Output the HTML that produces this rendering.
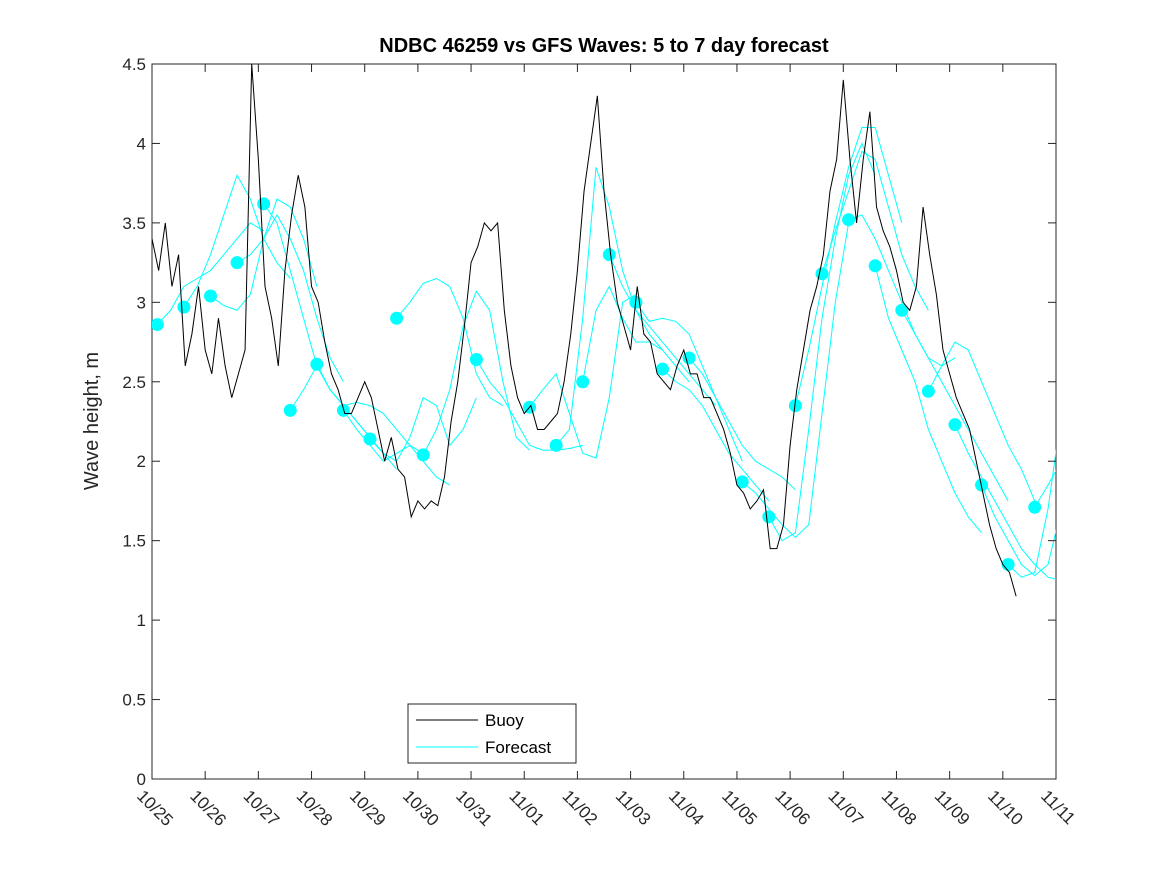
<!DOCTYPE html>
<html><head><meta charset="utf-8"><style>
body{margin:0;background:#fff}
svg{font-family:"Liberation Sans",sans-serif}
</style></head><body>
<svg id="c" width="1167" height="875"></svg>
<script>
const startLabels=["10/25","10/26","10/27","10/28","10/29","10/30","10/31","11/01","11/02","11/03","11/04","11/05","11/06","11/07","11/08","11/09","11/10","11/11"];
const yTicks=[0,0.5,1,1.5,2,2.5,3,3.5,4,4.5];
const yTickLabels=["0","0.5","1","1.5","2","2.5","3","3.5","4","4.5"];
// buoy: 3-hourly values from 10/25 00:00, one row per day
const buoyStep=0.125;
const buoy=[
3.4,3.2,3.5,3.1,3.3,2.6,2.8,3.1,
2.7,2.55,2.9,2.6,2.4,2.55,2.7,4.5,
3.9,3.1,2.9,2.6,3.2,3.55,3.8,3.6,
3.1,3.0,2.75,2.55,2.45,2.3,2.3,2.4,
2.5,2.4,2.2,2.0,2.15,1.95,1.9,1.65,
1.75,1.7,1.75,1.72,1.9,2.25,2.5,2.85,
3.25,3.35,3.5,3.45,3.5,2.95,2.6,2.4,
2.3,2.35,2.2,2.2,2.25,2.3,2.5,2.8,
3.2,3.7,4.0,4.3,3.7,3.3,3.0,2.85,
2.7,3.1,2.8,2.75,2.55,2.5,2.45,2.6,
2.7,2.55,2.55,2.4,2.4,2.3,2.2,2.05,
1.85,1.8,1.7,1.75,1.82,1.45,1.45,1.6,
2.1,2.45,2.7,2.95,3.1,3.3,3.7,3.9,
4.4,3.9,3.5,3.9,4.2,3.6,3.45,3.35,
3.2,3.0,2.95,3.1,3.6,3.3,3.05,2.7,
2.55,2.4,2.3,2.2,2.0,1.8,1.6,1.45,
1.35,1.3,1.15];
const fcStarts=[0.1,0.6,1.1,1.6,2.1,2.6,3.1,3.6,4.1,4.6,5.1,6.1,7.1,7.6,8.1,8.6,9.1,9.6,10.1,11.1,11.6,12.1,12.6,13.1,13.6,14.1,14.6,15.1,15.6,16.1,16.6];
const fcValues=[
[2.86,2.95,3.1,3.15,3.2,3.3,3.4,3.5,3.45],
[2.97,3.1,3.3,3.55,3.8,3.65,3.4,3.25,3.15],
[3.04,2.98,2.95,3.05,3.4,3.65,3.6,3.4,3.1],
[3.25,3.3,3.4,3.55,3.4,3.2,2.9,2.65,2.5],
[3.62,3.5,3.2,2.9,2.6,2.45,2.35,2.25,2.15],
[2.32,2.45,2.6,2.45,2.35,2.25,2.15,2.05,1.95],
[2.61,2.45,2.35,2.37,2.35,2.3,2.2,2.1,2.05],
[2.32,2.2,2.1,2.0,2.05,2.1,2.0,1.9,1.85],
[2.14,2.05,2.0,2.15,2.4,2.35,2.1,2.2,2.4],
[2.9,3.0,3.12,3.15,3.1,2.9,2.55,2.4,2.35],
[2.04,2.2,2.45,2.85,3.07,2.95,2.5,2.15,2.07],
[2.64,2.5,2.4,2.25,2.1,2.07,2.07,2.08,2.1],
[2.34,2.45,2.55,2.3,2.05,2.02,2.4,3.0,3.05],
[2.1,2.2,2.9,3.85,3.6,3.2,2.95,2.8,2.7],
[2.5,2.95,3.1,2.9,2.75,2.75,2.7,2.6,2.5],
[3.3,3.1,2.95,2.85,2.75,2.65,2.55,2.45,2.35],
[3.0,2.88,2.9,2.88,2.8,2.6,2.4,2.2,2.0],
[2.58,2.5,2.45,2.35,2.2,2.05,1.95,1.85,1.75],
[2.65,2.55,2.4,2.25,2.1,2.0,1.95,1.9,1.82],
[1.87,1.8,1.7,1.6,1.52,1.6,2.3,3.0,3.5],
[1.65,1.5,1.55,2.2,2.9,3.4,3.8,4.0,3.8],
[2.35,2.7,3.1,3.5,3.85,4.1,4.1,3.8,3.5],
[3.18,3.45,3.7,3.95,3.9,3.6,3.3,3.1,2.95],
[3.52,3.55,3.4,3.2,3.0,2.8,2.65,2.6,2.65],
[3.23,2.9,2.7,2.5,2.2,2.0,1.8,1.65,1.55],
[2.95,2.8,2.65,2.5,2.35,2.2,2.05,1.9,1.75],
[2.44,2.6,2.75,2.7,2.5,2.3,2.1,1.95,1.75],
[2.23,2.05,1.9,1.75,1.6,1.45,1.35,1.27,1.25],
[1.85,1.65,1.5,1.35,1.28,1.35,1.7,2.1,2.4],
[1.35,1.27,1.3,1.7,2.3],
[1.71,1.85,2.0]];
const fcStep=0.25;

const L=152,R=1056,T=64,B=779,X0=0,X1=17,Y0=0,Y1=4.5;
const xs=d=>L+(d-X0)/(X1-X0)*(R-L);
const ys=v=>B-(v-Y0)/(Y1-Y0)*(B-T);
const svg=document.getElementById('c');const NS='http://www.w3.org/2000/svg';
function mk(t,a,p){const e=document.createElementNS(NS,t);for(const k in a)e.setAttribute(k,a[k]);(p||svg).appendChild(e);return e;}
const clip=mk('clipPath',{id:'pc'});mk('rect',{x:L,y:T,width:R-L,height:B-T},clip);
let r=mk('rect',{x:L,y:T,width:R-L,height:B-T,fill:'#fff',stroke:'#262626','stroke-width':1});


const fg=mk('g',{'clip-path':'url(#pc)'});
fcStarts.forEach((s,i)=>{
  const v=fcValues[i];
  if(v.length>1){const p=mk('polyline',{points:v.map((y,j)=>xs(s+j*fcStep)+','+ys(y)).join(' '),fill:'none',stroke:'#00ffff','stroke-width':1},fg);
  
  }
});
fcStarts.forEach((s,i)=>{
  const c=mk('circle',{cx:xs(s),cy:ys(fcValues[i][0]),r:6.5,fill:'#00ffff'},fg);
  
  
});
const bl=mk('polyline',{points:buoy.map((v,i)=>xs(i*buoyStep)+','+ys(v)).join(' '),fill:'none',stroke:'#000','stroke-width':1,'clip-path':'url(#pc)'});


yTicks.forEach((v,i)=>{const y=ys(v);
  mk('line',{x1:L,x2:L+8,y1:y,y2:y,stroke:'#262626'});mk('line',{x1:R,x2:R-8,y1:y,y2:y,stroke:'#262626'});
  const t=mk('text',{x:L-6,y:y+6,'text-anchor':'end','font-size':17,fill:'#262626'});t.textContent=yTickLabels[i];
  
  });
startLabels.forEach((lab,i)=>{const x=xs(i);
  mk('line',{x1:x,x2:x,y1:B,y2:B-8,stroke:'#262626'});mk('line',{x1:x,x2:x,y1:T,y2:T+8,stroke:'#262626'});
  const t=mk('text',{x:x-16,y:B+18,'font-size':17,fill:'#262626',transform:`rotate(45 ${x-16} ${B+18})`});t.textContent=lab;
  
  });
let t=mk('text',{x:604,y:52,'text-anchor':'middle','font-size':20,'font-weight':'bold',fill:'#000'});t.textContent='NDBC 46259 vs GFS Waves: 5 to 7 day forecast';


t=mk('text',{x:98,y:421,'text-anchor':'middle','font-size':20,fill:'#262626',transform:'rotate(-90 98 421)'});t.textContent='Wave height, m';


const lg=mk('g',{});


mk('rect',{x:408,y:704,width:168,height:59,fill:'#fff',stroke:'#262626'},lg);
mk('line',{x1:416,x2:478,y1:720,y2:720,stroke:'#000'},lg);
mk('line',{x1:416,x2:478,y1:747,y2:747,stroke:'#00ffff'},lg);
t=mk('text',{x:485,y:726,'font-size':17,fill:'#000'},lg);t.textContent='Buoy';


t=mk('text',{x:485,y:753,'font-size':17,fill:'#000'},lg);t.textContent='Forecast';


</script>
</body></html>
